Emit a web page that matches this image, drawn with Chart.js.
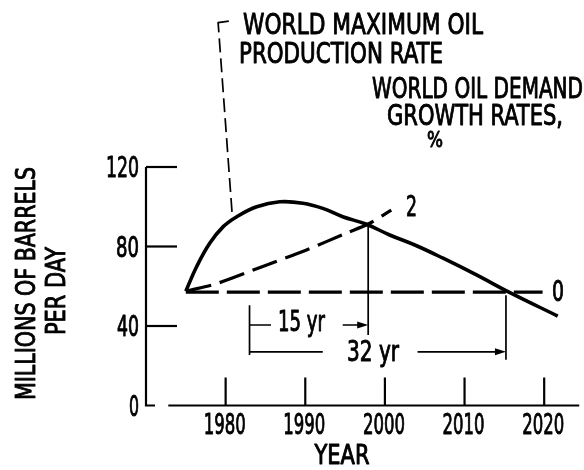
<!DOCTYPE html>
<html>
<head>
<meta charset="utf-8">
<script src="https://cdn.jsdelivr.net/npm/chart.js@4.4.1/dist/chart.umd.min.js"></script>
<style>
  html, body { margin: 0; padding: 0; background: #ffffff; }
  #wrap { width: 584px; height: 470px; position: relative; }
</style>
</head>
<body>
<div id="wrap"><canvas id="c"></canvas></div>
<script>
// ---- data ----
const prodYears  = [1975, 1976.35, 1978.0, 1979.7, 1981.4, 1983.9, 1986.8, 1989.7, 1992.2, 1994.7, 1997.6, 2000.6, 2003.9, 2007.3, 2011.5, 2015.7, 2021.7];
const prodValues = [57.5, 69.8, 81.6, 90.0, 95.0, 100.0, 102.5, 101.8, 99.2, 95.0, 91.3, 85.8, 80.5, 74.1, 65.7, 56.8, 45.0];
const growth2Years  = [1975, 1979, 1985, 1990, 1995, 1997.9, 2000.8];
const growth2Values = [57.5, 61.5, 70.5, 78, 86.5, 91.3, 98.3];
const growth0Years  = [1975, 2019.8];
const growth0Values = [57, 57];
const xTickYears  = [1980, 1990, 2000, 2010, 2020];
const yTickValues = [0, 40, 80, 120];
const interval15 = [1983, 1997.9];   // 15 yr
const interval32 = [1983, 2015.2];   // 32 yr

const FONT = "'Liberation Sans Narrow', 'DejaVu Sans Condensed', 'Liberation Sans', sans-serif";

function pts(xs, ys) { return xs.map((x, i) => ({ x: x, y: ys[i] })); }

function fitText(ctx, text, x, y, w, size, align) {
  ctx.save();
  ctx.font = size + 'px ' + FONT;
  ctx.textBaseline = 'alphabetic';
  ctx.textAlign = 'left';
  const m = ctx.measureText(text).width;
  const s = w / m;
  ctx.translate(x, y);
  ctx.scale(s, 1);
  let off = 0;
  if (align === 'center') off = -m / 2;
  else if (align === 'right') off = -m;
  ctx.lineWidth = 0.9;
  ctx.lineJoin = 'round';
  ctx.fillText(text, off, 0);
  ctx.strokeText(text, off, 0);
  ctx.restore();
}

function arrowHead(ctx, xTip, y, dir) {
  ctx.beginPath();
  ctx.moveTo(xTip, y);
  ctx.lineTo(xTip - dir * 11, y - 3.5);
  ctx.lineTo(xTip - dir * 11, y + 3.5);
  ctx.closePath();
  ctx.fill();
}

const decor = {
  id: 'decor',
  afterDatasetsDraw(chart) {
    const ctx = chart.ctx;
    const xs = chart.scales.x, ys = chart.scales.y;
    const X = v => xs.getPixelForValue(v);
    const Y = v => ys.getPixelForValue(v);
    ctx.save();
    ctx.strokeStyle = '#000';
    ctx.fillStyle = '#000';
    ctx.lineCap = 'butt';

    // axes
    ctx.lineWidth = 2.2;
    const ax = X(1970);
    ctx.beginPath();
    ctx.moveTo(ax, Y(120)); ctx.lineTo(ax, Y(0)); ctx.lineTo(ax + 9, Y(0));
    ctx.stroke();
    ctx.beginPath();
    ctx.moveTo(X(1972.8), Y(0)); ctx.lineTo(X(2024.4), Y(0));
    ctx.stroke();
    // y ticks
    yTickValues.forEach(v => {
      if (v === 0) return;
      ctx.beginPath();
      ctx.moveTo(ax, Y(v)); ctx.lineTo(ax + 31, Y(v));
      ctx.stroke();
    });
    // x ticks
    xTickYears.forEach(v => {
      ctx.beginPath();
      ctx.moveTo(X(v), Y(0)); ctx.lineTo(X(v), Y(0) - 28);
      ctx.stroke();
    });

    // tick labels
    const yw = { 0: 10, 40: 22, 80: 23, 120: 33 };
    yTickValues.forEach(v => {
      fitText(ctx, String(v), 139, Y(v) + 10, yw[v], 28, 'right');
    });
    xTickYears.forEach(v => {
      fitText(ctx, String(v), X(v) - 1, 433.5, 42, 28, 'center');
    });

    // axis titles
    fitText(ctx, 'YEAR', 342, 463.5, 55, 26, 'center');
    ctx.save();
    ctx.translate(35, 283.5);
    ctx.rotate(-Math.PI / 2);
    fitText(ctx, 'MILLIONS OF BARRELS', 0, 0, 233, 26, 'center');
    ctx.restore();
    ctx.save();
    ctx.translate(65, 291);
    ctx.rotate(-Math.PI / 2);
    fitText(ctx, 'PER DAY', 0, 0, 88, 26, 'center');
    ctx.restore();

    // annotation texts
    fitText(ctx, 'WORLD MAXIMUM OIL', 243, 33.5, 240, 28, 'left');
    fitText(ctx, 'PRODUCTION RATE', 239, 62.5, 204, 28, 'left');
    fitText(ctx, 'WORLD OIL DEMAND', 372, 97.5, 211, 28, 'left');
    fitText(ctx, 'GROWTH RATES,', 387, 124.5, 176, 28, 'left');
    fitText(ctx, '%', 427, 147, 16, 22, 'left');
    fitText(ctx, '2', 406, 215.5, 11, 28, 'left');
    fitText(ctx, '0', 552, 300.5, 12, 28, 'left');

    // leader line (dashed)
    ctx.lineWidth = 1.7;
    ctx.setLineDash([14, 6]);
    ctx.beginPath();
    ctx.moveTo(X(1980.8), Y(97.4));
    ctx.lineTo(X(1979.05), Y(193));
    ctx.stroke();
    ctx.setLineDash([]);
    ctx.beginPath();
    ctx.moveTo(X(1979.05), Y(192.6));
    ctx.lineTo(X(1980.4), Y(193.4));
    ctx.stroke();

    // interval brackets
    ctx.lineWidth = 1.7;
    ctx.beginPath();
    ctx.moveTo(X(interval15[0]), Y(50.5)); ctx.lineTo(X(interval15[0]), Y(25.4));
    ctx.moveTo(X(interval15[1]), Y(91.3)); ctx.lineTo(X(interval15[1]), Y(35.5));
    ctx.moveTo(X(interval32[1]), Y(55.5)); ctx.lineTo(X(interval32[1]), Y(23));
    // 15 yr
    ctx.moveTo(X(interval15[0]), Y(40.5)); ctx.lineTo(X(1985.7), Y(40.5));
    ctx.moveTo(X(1994.7), Y(40.5)); ctx.lineTo(X(interval15[1]) - 8, Y(40.5));
    // 32 yr
    ctx.moveTo(X(interval32[0]), Y(27)); ctx.lineTo(X(1992.2), Y(27));
    ctx.moveTo(X(2004.1), Y(27)); ctx.lineTo(X(interval32[1]) - 8, Y(27));
    ctx.stroke();
    arrowHead(ctx, X(interval15[1]), Y(40.5), 1);
    arrowHead(ctx, X(interval32[1]), Y(27), 1);
    fitText(ctx, '15 yr', 278, 330.5, 47, 28, 'left');
    fitText(ctx, '32 yr', 347, 360.5, 52, 28, 'left');

    ctx.restore();
  }
};

new Chart(document.getElementById('c'), {
  type: 'line',
  data: {
    datasets: [
      {
        label: 'World maximum oil production rate',
        data: pts(prodYears, prodValues),
        borderColor: '#000',
        borderWidth: 3.6,
        pointRadius: 0,
        tension: 0.4,
        fill: false,
        clip: false
      },
      {
        label: '2 %',
        data: pts(growth2Years, growth2Values),
        borderColor: '#000',
        borderWidth: 3.2,
        borderDash: [26, 9],
        pointRadius: 0,
        tension: 0.3,
        fill: false,
        clip: false
      },
      {
        label: '0 %',
        data: pts(growth0Years, growth0Values),
        borderColor: '#000',
        borderWidth: 3.2,
        borderDash: [33, 8],
        pointRadius: 0,
        fill: false,
        clip: false
      }
    ]
  },
  options: {
    responsive: true,
    maintainAspectRatio: false,
    animation: false,
    layout: { padding: { left: 146, right: 0, top: 167, bottom: 64.5 } },
    plugins: { legend: { display: false }, tooltip: { enabled: false }, title: { display: false } },
    scales: {
      x: { type: 'linear', min: 1970, max: 2025, display: false },
      y: { type: 'linear', min: 0, max: 120, display: false }
    }
  },
  plugins: [decor]
});
</script>
</body>
</html>
